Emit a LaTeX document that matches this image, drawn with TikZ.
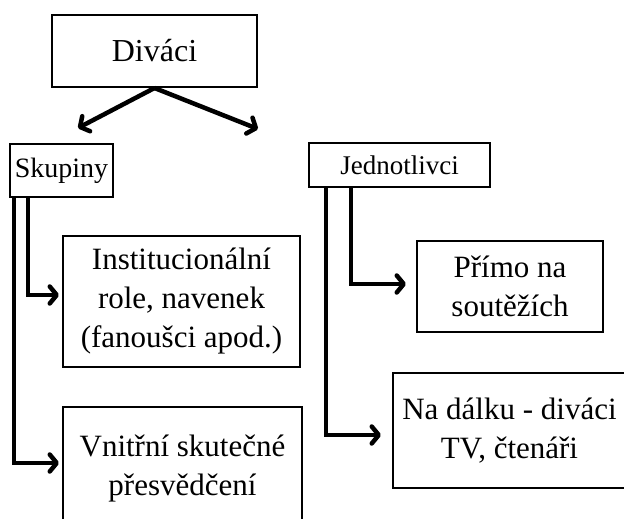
\documentclass[tikz,border=0pt]{standalone}
\usepackage{fontspec}
\setmainfont{Liberation Serif}
\usetikzlibrary{arrows.meta,calc}
\begin{document}
\begin{tikzpicture}[x=1pt,y=-1pt,
  box/.style={draw,line width=2pt,inner sep=0pt,align=center,font=\fontsize{31}{39}\selectfont},
  conn/.style={line width=4.5pt,line join=miter,-{Straight Barb[length=7pt,width=17pt,line cap=round,line join=round]}}
]
\useasboundingbox (0,0) rectangle (624,519);
\clip (0,0) rectangle (624,519);
\node[box,minimum width=205,minimum height=72,font=\fontsize{32}{38}\selectfont] (div) at (154.5,51) {Diváci};
\node[box,minimum width=103,minimum height=53,font=\fontsize{28}{34}\selectfont] (sk) at (61.5,170.5) {Skupiny};
\node[box,minimum width=181,minimum height=44,font=\fontsize{27}{33}\selectfont] (jd) at (399.5,165) {Jednotlivci};
\node[box,minimum width=237,minimum height=131] (inst) at (181.5,301.5) {Institucionální\\role, navenek\\(fanoušci apod.)};
\node[box,minimum width=239,minimum height=124] (vn) at (182.5,469) {Vnitřní skutečné\\přesvědčení};
\node[box,minimum width=186,minimum height=91] (pr) at (510,286.5) {Přímo na\\soutěžích};
\node[box,minimum width=233,minimum height=115] (nd) at (509.5,430.5) {Na dálku - diváci\\TV, čtenáři};
\coordinate (tipL) at (78,128);
\coordinate (tipR) at (258,129);
\draw[conn] (div.south) -- (tipL);
\draw[conn] (div.south) -- (tipR);
\draw[conn] ([shift={(5,0)}]sk.south west) |- ([shift={(-3,-6)}]vn.west);
\draw[conn] ([shift={(19,0)}]sk.south west) |- ([shift={(-3,-6.5)}]inst.west);
\draw[conn] ([shift={(18,0)}]jd.south west) |- ([shift={(-11,4.5)}]nd.west);
\draw[conn] ([shift={(43,0)}]jd.south west) |- ([shift={(-10,-2.5)}]pr.west);
\end{tikzpicture}
\end{document}
